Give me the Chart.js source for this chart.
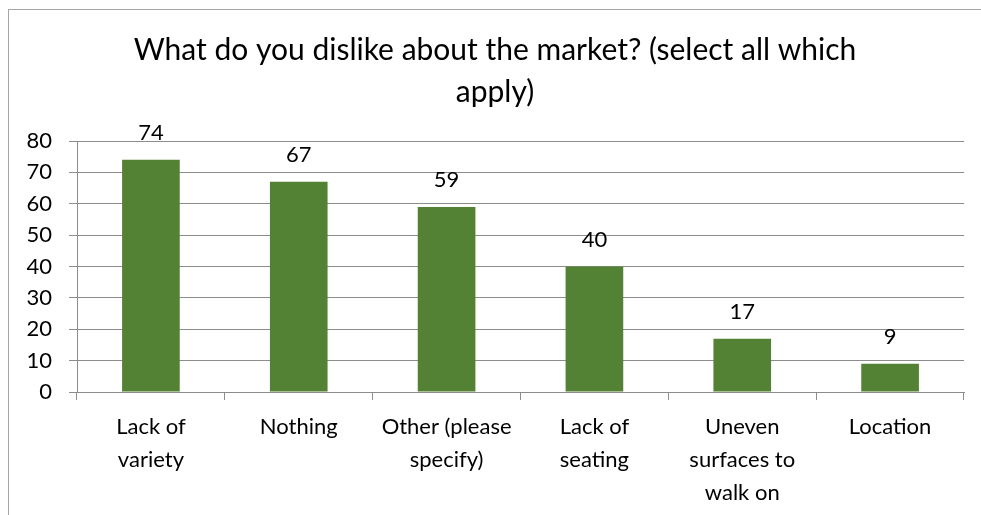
<!DOCTYPE html>
<html>
<head>
<meta charset="utf-8">
<script src="https://cdn.jsdelivr.net/npm/chart.js@4"></script>
<style>
  body { margin: 0; background: #fff; }
  #wrap { position: relative; width: 981px; height: 515px; overflow: hidden; }
  #frame { position: absolute; left: 8px; top: 9px; width: 1100px; height: 700px; border: 1px solid #a6a6a6; box-sizing: border-box; }
  canvas { position: absolute; left: 0; top: 0; }
</style>
</head>
<body>
<div id="wrap">
  <div id="frame"></div>
  <canvas id="chart" width="981" height="515"></canvas>
</div>
<script>
const categories = [
  ['Lack of', 'variety'],
  ['Nothing'],
  ['Other (please', 'specify)'],
  ['Lack of', 'seating'],
  ['Uneven', 'surfaces to', 'walk on'],
  ['Location']
];
const counts = [74, 67, 59, 40, 17, 9];
const yTicks = [0, 10, 20, 30, 40, 50, 60, 70, 80];

const fontName = 'Lato, "Open Sans", sans-serif';
const gridGray = '#8c8c8c';

// numbers above the bars
const valueLabels = {
  id: 'valueLabels',
  afterDatasetsDraw(chart) {
    const ctx = chart.ctx;
    const meta = chart.getDatasetMeta(0);
    ctx.save();
    ctx.font = '22px ' + fontName;
    ctx.fillStyle = '#000';
    ctx.textAlign = 'center';
    ctx.textBaseline = 'middle';
    meta.data.forEach((bar, i) => {
      ctx.fillText(String(counts[i]), bar.x, bar.y - 27);
    });
    ctx.restore();
  }
};

const ctx = document.querySelector('#chart').getContext('2d');

new Chart(ctx, {
  type: 'bar',
  data: {
    labels: categories,
    datasets: [{
      data: counts,
      backgroundColor: '#548235',
      borderWidth: 0,
      categoryPercentage: 1,
      barPercentage: 0.39
    }]
  },
  options: {
    responsive: false,
    animation: false,
    layout: { padding: { left: 26, right: 17, top: 0, bottom: 0 } },
    plugins: {
      legend: { display: false },
      tooltip: { enabled: false },
      title: {
        display: true,
        text: ['What do you dislike about the market? (select all which', 'apply)'],
        color: '#000',
        font: { family: fontName, size: 30, weight: 'normal', lineHeight: 1.4 },
        padding: { top: 29, bottom: 28 }
      }
    },
    scales: {
      x: {
        grid: { drawOnChartArea: false, drawTicks: true, tickLength: 8, color: gridGray },
        border: { color: gridGray },
        ticks: {
          color: '#000',
          padding: 10,
          maxRotation: 0,
          autoSkip: false,
          font: { family: fontName, size: 22, lineHeight: 1.5 }
        },
        afterFit(scale) { scale.height = 123; }
      },
      y: {
        min: 0,
        max: 80,
        afterBuildTicks(scale) { scale.ticks = yTicks.map(v => ({ value: v })); },
        grid: { color: gridGray, tickLength: 8 },
        border: { color: gridGray },
        ticks: {
          color: '#000',
          padding: 17,
          font: { family: fontName, size: 22 }
        },
        afterFit(scale) { scale.width = 51; }
      }
    }
  },
  plugins: [valueLabels]
});
</script>
</body>
</html>
